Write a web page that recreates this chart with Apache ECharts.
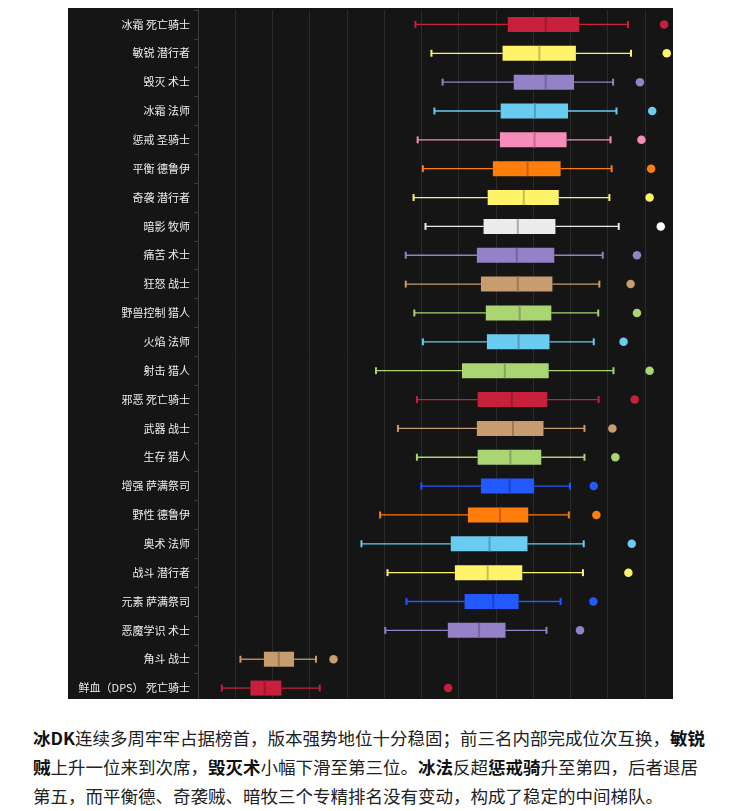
<!DOCTYPE html>
<html>
<head>
<meta charset="utf-8">
<script src="https://cdn.jsdelivr.net/npm/echarts@6/dist/echarts.min.js"></script>
<style>
  html, body { margin: 0; padding: 0; background: #ffffff; }
  #wrap { position: absolute; left: 68px; top: 8px; width: 605px; height: 691px; background: #151515; overflow: hidden; }
  #chart { position: absolute; left: 0; top: 0; width: 620px; height: 700px; }
  #note { position: absolute; left: 33px; top: 723px; font-family: "Noto Sans CJK SC", "Noto Sans", sans-serif; font-size: 17.5px; line-height: 29px; color: #222; white-space: nowrap; }
  #note b { font-weight: bold; color: #111; }
</style>
</head>
<body>
<div id="wrap"><div id="chart"></div></div>
<div id="note"><b>冰DK</b>连续多周牢牢占据榜首，版本强势地位十分稳固；前三名内部完成位次互换，<b>敏锐</b><br><b>贼</b>上升一位来到次席，<b>毁灭术</b>小幅下滑至第三位。<b>冰法</b>反超<b>惩戒骑</b>升至第四，后者退居<br>第五，而平衡德、奇袭贼、暗牧三个专精排名没有变动，构成了稳定的中间梯队。</div>
<script>
// Categories (top to bottom)
var specs = ['冰霜 死亡骑士','敏锐 潜行者','毁灭 术士','冰霜 法师','惩戒 圣骑士','平衡 德鲁伊','奇袭 潜行者','暗影 牧师','痛苦 术士','狂怒 战士','野兽控制 猎人','火焰 法师','射击 猎人','邪恶 死亡骑士','武器 战士','生存 猎人','增强 萨满祭司','野性 德鲁伊','奥术 法师','战斗 潜行者','元素 萨满祭司','恶魔学识 术士','角斗 战士','鲜血（DPS） 死亡骑士'];
var classes = ['dk','rogue','warlock','mage','paladin','druid','rogue','priest','warlock','warrior','hunter','mage','hunter','dk','warrior','hunter','shaman','druid','mage','rogue','shaman','warlock','warrior','dk'];

// Box statistics
var lowWhisker = [58.4,62.7,65.7,63.5,59.0,60.4,57.9,61.1,55.8,55.8,58.1,60.4,47.8,58.8,53.7,58.8,60.0,48.9,43.9,50.9,56.0,50.3,11.4,6.4];
var q1Values   = [83.2,81.8,84.8,81.3,81.1,79.2,77.8,76.7,74.9,76.0,77.3,77.6,70.9,75.1,74.9,75.1,76.0,72.5,67.9,69.0,71.6,67.1,17.7,14.1];
var medians    = [93.4,91.7,93.4,90.5,90.4,88.5,87.5,85.9,85.6,85.9,86.4,86.1,82.4,84.3,84.6,83.9,83.7,81.1,78.3,77.8,79.3,75.5,21.7,17.9];
var q3Values   = [102.4,101.5,101.0,99.4,99.0,97.4,96.9,96.0,95.7,95.2,94.9,94.4,94.2,93.8,92.8,92.2,90.3,88.7,88.5,87.1,86.1,82.6,25.8,22.4];
var highWhisker= [115.5,116.3,111.5,112.4,110.8,111.1,110.5,113.0,108.7,107.8,107.5,106.3,111.6,107.6,103.8,103.8,99.9,99.6,103.6,103.4,97.4,93.6,31.7,32.7];
var topValues  = [125.2,125.9,118.7,122.0,119.1,121.7,121.3,124.3,117.9,116.2,117.9,114.3,121.3,117.3,111.3,112.1,106.3,107.0,116.5,115.6,106.2,102.6,36.4,67.2];

// Styles
var classColors = {
  dk: '#C8203C', rogue: '#FFF36A', warlock: '#9482C9', mage: '#69CCF0', paladin: '#F58CBA',
  druid: '#FF7D0A', priest: '#ECECEC', warrior: '#C79C6E', hunter: '#ABD473', shaman: '#2359FF'
};
var dotColors = { priest: '#FFFFFF' };

function shade(hex, f) {
  var n = parseInt(hex.slice(1), 16);
  var r = Math.round(((n >> 16) & 255) * f), g = Math.round(((n >> 8) & 255) * f), b = Math.round((n & 255) * f);
  return 'rgb(' + r + ',' + g + ',' + b + ')';
}

var boxData = specs.map(function (s, i) {
  return [i, lowWhisker[i], q1Values[i], medians[i], q3Values[i], highWhisker[i]];
});
var dotData = specs.map(function (s, i) { return [topValues[i], i]; });

var chart = echarts.init(document.getElementById('chart'), null, { renderer: 'canvas' });
chart.setOption({
  backgroundColor: 'transparent',
  animation: false,
  grid: { left: 130, right: 6, top: 2, bottom: 5.5 },
  xAxis: {
    type: 'value', min: 0, max: 130, interval: 10,
    axisLabel: { show: false }, axisLine: { show: false }, axisTick: { show: false },
    splitLine: { show: true, lineStyle: { color: '#2b2b2b', width: 1 } }
  },
  yAxis: {
    type: 'category', data: specs, inverse: true,
    axisLine: { show: true, lineStyle: { color: '#3c3c3c', width: 1 } },
    axisTick: { show: true, length: 4, lineStyle: { color: '#3c3c3c' } },
    axisLabel: { color: '#eeeeee', fontSize: 11, margin: 8, fontFamily: '"Noto Sans CJK SC", sans-serif' },
    splitLine: { show: false }
  },
  series: [
    {
      type: 'custom',
      data: boxData,
      encode: { x: [1, 2, 3, 4, 5], y: 0 },
      renderItem: function (params, api) {
        var idx = api.value(0);
        var pMin = api.coord([api.value(1), idx]);
        var pQ1 = api.coord([api.value(2), idx]);
        var pMed = api.coord([api.value(3), idx]);
        var pQ3 = api.coord([api.value(4), idx]);
        var pMax = api.coord([api.value(5), idx]);
        var band = api.size([0, 1])[1];
        var h = band * 0.52, cap = band * 0.24;
        var y = pMed[1];
        var cls = classes[params.dataIndex];
        var c = classColors[cls];
        var dark = shade(c, cls === 'priest' ? 0.72 : 0.78);
        return {
          type: 'group',
          children: [
            { type: 'line', shape: { x1: pMin[0], y1: y, x2: pQ1[0], y2: y }, style: { stroke: c, lineWidth: 1.3 } },
            { type: 'line', shape: { x1: pQ3[0], y1: y, x2: pMax[0], y2: y }, style: { stroke: c, lineWidth: 1.3 } },
            { type: 'line', shape: { x1: pMin[0], y1: y - cap / 2, x2: pMin[0], y2: y + cap / 2 }, style: { stroke: c, lineWidth: 2 } },
            { type: 'line', shape: { x1: pMax[0], y1: y - cap / 2, x2: pMax[0], y2: y + cap / 2 }, style: { stroke: c, lineWidth: 2 } },
            { type: 'rect', shape: { x: pQ1[0], y: y - h / 2, width: pQ3[0] - pQ1[0], height: h }, style: { fill: c } },
            { type: 'line', shape: { x1: pMed[0], y1: y - h / 2, x2: pMed[0], y2: y + h / 2 }, style: { stroke: dark, lineWidth: 2 } }
          ]
        };
      }
    },
    {
      type: 'scatter',
      data: dotData,
      symbol: 'circle',
      symbolSize: 8.5,
      itemStyle: {
        opacity: 1,
        color: function (p) { var cls = classes[p.dataIndex]; return dotColors[cls] || classColors[cls]; }
      }
    }
  ]
});
</script>
</body>
</html>
